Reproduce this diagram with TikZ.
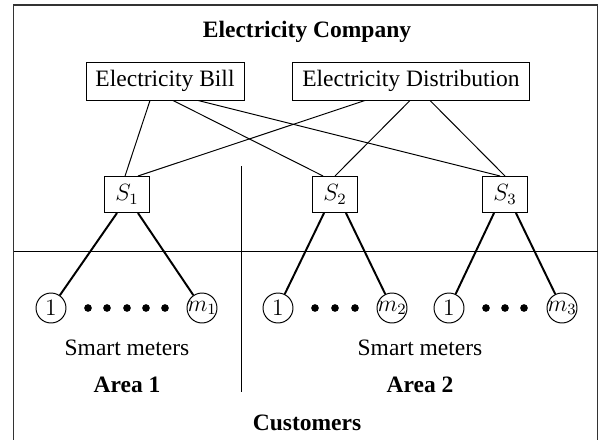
\documentclass[tikz,border=0pt]{standalone}
\usepackage[no-math]{fontspec}
\setmainfont{Liberation Serif}
\begin{document}
\begin{tikzpicture}[x=0.5106pt,y=-0.5106pt,
  font=\fontsize{12pt}{14pt}\selectfont,
  box/.style={draw,line width=0.5pt,minimum height=19.4pt,inner xsep=4.85pt,inner ysep=0pt},
  sbox/.style={draw,line width=0.5pt,minimum width=22.5pt,minimum height=18.4pt,inner sep=0pt},
  meter/.style={circle,draw,line width=0.5pt,minimum size=15.3pt,inner sep=0pt},
  mlabel/.style={inner sep=0pt},
  wire/.style={line width=0.5pt},
  feed/.style={line width=1pt},
  bigdot/.style={circle,fill,inner sep=0pt,minimum size=3.9pt},
  title/.style={font=\fontsize{12pt}{14pt}\selectfont\bfseries,anchor=base},
  plain/.style={anchor=base}
]
\useasboundingbox (0,0) rectangle (600,439);
\draw[black!80,line width=0.7pt] (13.5,5) rectangle (597.5,470);

\node[title] (company) at (307,37) {Electricity Company};
\node[box] (bill) at (165,81) {Electricity Bill};
\node[box] (dist) at (411,81) {Electricity Distribution};

\node[sbox] (s1) at (127,194.5) {$S_1$};
\node[sbox] (s2) at (335,194.5) {$S_2$};
\node[sbox] (s3) at (505,194.5) {$S_3$};

% separators
\coordinate (hl) at (13.5,251);
\coordinate (hr) at (597.5,251);
\coordinate (vt) at (241,166);
\coordinate (vb) at (241,392);
\draw[wire] (hl) -- (hr);
\draw[wire] (vt) -- (vb);

% company to substations
\draw[wire] ([xshift=-7.66pt]bill.south) -- ([xshift=-1pt]s1.north);
\draw[wire] ([xshift=4.1pt]bill.south) -- ([xshift=-6.1pt]s2.north);
\draw[wire] ([xshift=16.85pt]bill.south) -- ([xshift=-2.55pt]s3.north);
\draw[wire] ([xshift=-23.5pt]dist.south) -- ([xshift=5.6pt]s1.north);
\draw[wire] ([xshift=-0.5pt]dist.south) -- ([xshift=0pt]s2.north);
\draw[wire] ([xshift=9.7pt]dist.south) -- ([xshift=0pt]s3.north);

% meters area 1
\node[meter] (a1) at (51,308) {$1$};
\node[meter] (am) at (202,308) {};
\node[mlabel] (aml) at (am) {$m_1$};
\node[bigdot] (ad1) at (88,308) {};
\node[bigdot] (ad2) at (107,308) {};
\node[bigdot] (ad3) at (127,308) {};
\node[bigdot] (ad4) at (146,308) {};
\node[bigdot] (ad5) at (165,308) {};

% meters area 2, substation 2
\node[meter] (b1) at (278,308) {$1$};
\node[meter] (bm) at (392,308) {};
\node[mlabel] (bml) at (bm) {$m_2$};
\node[bigdot] (bd1) at (315,308) {};
\node[bigdot] (bd2) at (335,308) {};
\node[bigdot] (bd3) at (355,308) {};

% meters area 2, substation 3
\node[meter] (c1) at (449,308) {$1$};
\node[meter] (cm) at (562,308) {};
\node[mlabel] (cml) at (cm) {$m_3$};
\node[bigdot] (cd1) at (486,308) {};
\node[bigdot] (cd2) at (505,308) {};
\node[bigdot] (cd3) at (524,308) {};

% substations to meters
\draw[feed] ([xshift=-5.1pt]s1.south) -- (a1);
\draw[feed] ([xshift=5.6pt]s1.south) -- (am);
\draw[feed] ([xshift=-5.6pt]s2.south) -- (b1);
\draw[feed] ([xshift=5.6pt]s2.south) -- (bm);
\draw[feed] ([xshift=-5.6pt]s3.south) -- (c1);
\draw[feed] ([xshift=5.6pt]s3.south) -- (cm);

% labels
\node[plain] (sm1) at (127,355) {Smart meters};
\node[plain] (sm2) at (420,355) {Smart meters};
\node[title] (area1) at (127,392) {Area 1};
\node[title] (area2) at (420,392) {Area 2};
\node[title] (cust) at (307,430) {Customers};
\end{tikzpicture}
\end{document}
